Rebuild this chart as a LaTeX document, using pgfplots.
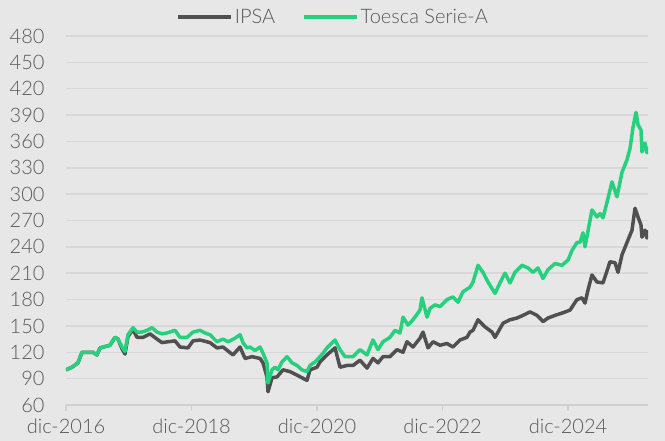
\documentclass[border=0pt]{standalone}
\usepackage{fontspec}
\setmainfont{Lato Light}
\usepackage{pgfplots}
\pgfplotsset{compat=1.18}
\definecolor{bgc}{HTML}{E7E7E7}
\definecolor{gridc}{HTML}{D8D8D8}
\definecolor{axisc}{HTML}{D0D0D0}
\definecolor{textc}{HTML}{595959}
\definecolor{ipsa}{HTML}{505050}
\definecolor{toesca}{HTML}{26D07C}
\begin{document}
\begin{tikzpicture}
\fill[bgc] (-66bp,-36bp) rectangle (599bp,405bp);
\begin{axis}[
  scale only axis, width=582bp, height=369bp,
  xmin=0, xmax=9.275, ymin=60, ymax=480,
  enlargelimits=false,
  axis x line*=bottom, axis y line*=left,
  y axis line style={draw=none},
  x axis line style={draw=axisc, line width=1.5bp},
  xtick={0,2,4,6,8},
  xticklabels={dic-2016,dic-2018,dic-2020,dic-2022,dic-2024},
  ytick={60,90,...,480},
  tick align=outside,
  major tick length=6bp,
  x tick style={draw=axisc, line width=1.5bp},
  y tick style={draw=none},
  ymajorgrids, grid style={draw=gridc, line width=1.5bp},
  /pgf/number format/assume math mode=true,
  every tick label/.append style={font=\fontsize{20bp}{24bp}\selectfont, text=textc},
  yticklabel style={xshift=-12bp},
  xticklabel style={yshift=-4bp},
  legend columns=2,
  legend style={draw=none, fill=none, at={(axis description cs:0.459,1.0515)}, anchor=center,
    font=\fontsize{20bp}{24bp}\selectfont, text=textc,
    /tikz/every even column/.append style={column sep=25bp}},
  legend image code/.code={\draw[#1, line width=3.5bp] (0bp,0bp) -- (53bp,0bp);},
  every axis plot/.append style={line width=3.5bp, line join=round},
]
\addplot[ipsa, no marks] coordinates {
(0,100) (0.096,103) (0.191,108) (0.255,120) (0.430,120) (0.494,117) (0.542,125) (0.701,128)
(0.781,137) (0.829,135) (0.892,124) (0.940,118) (0.988,138) (1.068,146) (1.131,137) (1.227,137)
(1.339,141) (1.450,135) (1.530,131) (1.625,132) (1.737,133) (1.817,126) (1.944,125) (2.024,133)
(2.135,134) (2.295,131) (2.406,125) (2.502,126) (2.661,117) (2.773,126) (2.853,113) (2.964,115)
(3.092,113) (3.139,108) (3.203,92) (3.219,75) (3.283,91) (3.363,92) (3.458,100) (3.570,98)
(3.681,94) (3.761,91) (3.841,88) (3.888,100) (4.000,103) (4.048,109) (4.159,117) (4.287,125)
(4.367,103) (4.478,105) (4.574,105) (4.685,111) (4.797,102) (4.892,113) (4.972,108) (5.052,115)
(5.163,115) (5.275,123) (5.371,120) (5.434,132) (5.530,126) (5.641,136) (5.689,143) (5.769,125)
(5.849,132) (5.960,128) (6.072,130) (6.167,126) (6.279,134) (6.390,137) (6.438,143) (6.486,145)
(6.566,157) (6.677,149) (6.789,143) (6.837,137) (6.964,153) (7.076,157) (7.187,159) (7.283,162)
(7.394,166) (7.506,162) (7.602,155) (7.681,159) (7.793,162) (7.920,165) (8.032,168) (8.143,180)
(8.223,182) (8.271,176) (8.319,191)
(8.382,208) (8.462,200) (8.558,199) (8.669,223) (8.749,222) (8.797,211) (8.861,231) (8.940,245)
(9.020,259) (9.068,284) (9.116,274) (9.163,265) (9.179,251) (9.227,259) (9.259,250) (9.275,259)
};
\addlegendentry{IPSA}
\addplot[toesca, no marks] coordinates {
(0,100) (0.096,103) (0.191,108) (0.255,120) (0.430,120) (0.494,117) (0.542,125) (0.701,128)
(0.781,137) (0.829,135) (0.892,126) (0.940,121) (0.988,140) (1.068,148) (1.131,143) (1.211,143)
(1.291,145) (1.371,148) (1.450,143) (1.530,141) (1.610,142) (1.737,145) (1.817,137) (1.928,137)
(2.024,143) (2.135,145) (2.215,142) (2.295,140) (2.406,132) (2.502,135) (2.582,132) (2.693,136)
(2.773,140) (2.821,131) (2.884,125) (2.932,126) (3.012,122) (3.092,126) (3.139,119) (3.203,108)
(3.219,85) (3.283,100) (3.331,103) (3.378,100) (3.442,109) (3.522,115) (3.602,108) (3.681,105)
(3.761,100) (3.841,98) (3.888,105) (3.968,109) (4.048,115) (4.096,119) (4.159,125) (4.287,134)
(4.367,123) (4.446,115) (4.574,115) (4.685,123) (4.797,117) (4.892,134) (4.972,123) (5.052,132)
(5.163,137) (5.243,145) (5.323,142) (5.371,160) (5.450,151) (5.530,157) (5.641,168) (5.673,182)
(5.753,160) (5.801,170) (5.880,174) (5.960,172) (6.072,180) (6.167,183) (6.247,177) (6.327,189)
(6.438,194) (6.486,200) (6.566,219) (6.645,211) (6.725,200) (6.837,187) (6.916,199) (6.996,210)
(7.076,199) (7.155,211) (7.267,219) (7.363,216) (7.442,211) (7.522,216) (7.602,204) (7.681,214)
(7.793,221) (7.904,219) (8.000,225) (8.064,236) (8.143,245) (8.191,245) (8.239,256)
(8.271,240) (8.382,282) (8.462,274) (8.510,278) (8.558,273) (8.637,295) (8.701,314) (8.781,297)
(8.861,325) (8.940,339) (8.988,352) (9.036,376) (9.084,393) (9.116,379) (9.163,373) (9.179,348)
(9.227,358) (9.259,347) (9.275,354)
};
\addlegendentry{Toesca Serie-A}
\end{axis}
\pgfresetboundingbox
\useasboundingbox (-66bp,-36bp) rectangle (599bp,405bp);
\end{tikzpicture}
\end{document}
